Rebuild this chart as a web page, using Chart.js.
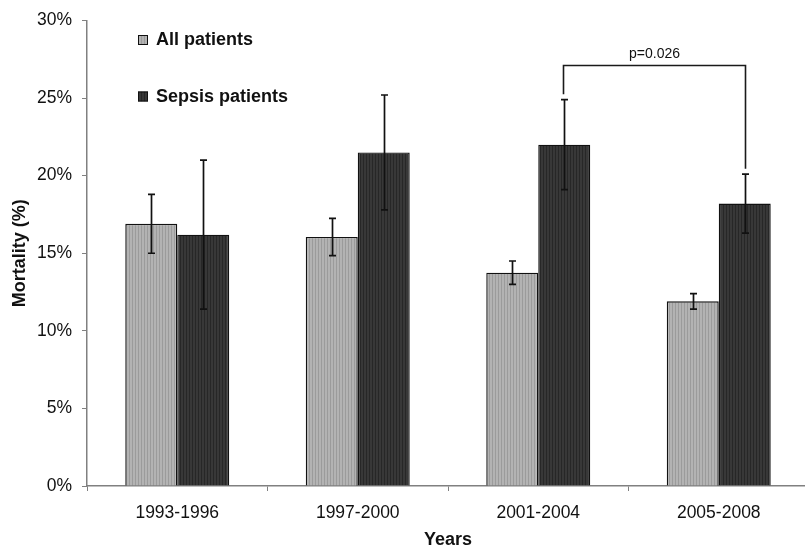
<!DOCTYPE html>
<html>
<head>
<meta charset="utf-8">
<script src="https://cdn.jsdelivr.net/npm/chart.js@4.4.1/dist/chart.umd.min.js"></script>
<style>
  html, body { margin: 0; padding: 0; background: #fff; overflow: hidden; }
  #wrap { width: 805px; height: 552px; overflow: hidden; position: relative; }
  canvas { display: block; }
</style>
</head>
<body>
<div id="wrap"><canvas id="c" width="812" height="552"></canvas></div>
<script>
// Mortality by period, all patients vs sepsis patients (mean and error in %)
const periods = ['1993-1996', '1997-2000', '2001-2004', '2005-2008'];
const allPatients = [16.9, 16.05, 13.75, 11.9];
const allPatientsErr = [1.9, 1.2, 0.75, 0.5];
const sepsisPatients = [16.2, 21.5, 22.0, 18.2];
const sepsisPatientsErr = [4.8, 3.7, 2.9, 1.9];
const yTicks = [0, 5, 10, 15, 20, 25, 30];

// Significance bracket between the sepsis bars of two periods
const comparison = { from: 2, to: 3, label: 'p=0.026', level: 27.15, gap: 0.35 };

const FONT = '"Liberation Sans", Arial, sans-serif';

function stripes(base, line) {
  const p = document.createElement('canvas');
  p.width = 3; p.height = 4;
  const g = p.getContext('2d');
  g.fillStyle = base; g.fillRect(0, 0, 3, 4);
  g.fillStyle = line; g.fillRect(0, 0, 1, 4);
  return g.createPattern(p, 'repeat');
}

const ctx = document.getElementById('c').getContext('2d');
const lightFill = stripes('#b3b3b3', '#9b9b9b');
const darkFill = stripes('#383838', '#272727');

const errorBars = {
  id: 'errorBars',
  afterDatasetsDraw(chart) {
    const c = chart.ctx;
    const y = chart.scales.y;
    c.save();
    c.strokeStyle = '#111';
    c.lineWidth = 1.7;
    chart.data.datasets.forEach((ds, di) => {
      const meta = chart.getDatasetMeta(di);
      meta.data.forEach((bar, i) => {
        const v = ds.data[i], e = ds.errors[i];
        const yt = y.getPixelForValue(v + e), yb = y.getPixelForValue(v - e);
        const x = Math.round(bar.x) + 0.5;
        c.beginPath();
        c.moveTo(x, yt); c.lineTo(x, yb);
        c.moveTo(x - 3.5, yt); c.lineTo(x + 3.5, yt);
        c.moveTo(x - 3.5, yb); c.lineTo(x + 3.5, yb);
        c.stroke();
      });
    });
    c.restore();
  }
};

const bracket = {
  id: 'bracket',
  afterDatasetsDraw(chart) {
    const c = chart.ctx;
    const y = chart.scales.y;
    const meta = chart.getDatasetMeta(1);
    const a = meta.data[comparison.from], b = meta.data[comparison.to];
    const ya = y.getPixelForValue(sepsisPatients[comparison.from] + sepsisPatientsErr[comparison.from] + comparison.gap);
    const yb = y.getPixelForValue(sepsisPatients[comparison.to] + sepsisPatientsErr[comparison.to] + comparison.gap);
    const yl = Math.round(y.getPixelForValue(comparison.level)) + 0.5;
    const xa = Math.round(a.x) - 0.5, xb = Math.round(b.x) + 0.5;
    c.save();
    c.strokeStyle = '#1a1a1a';
    c.lineWidth = 1.6;
    c.beginPath();
    c.moveTo(xa, ya); c.lineTo(xa, yl); c.lineTo(xb, yl); c.lineTo(xb, yb);
    c.stroke();
    c.fillStyle = '#111';
    c.font = '14px ' + FONT;
    c.textAlign = 'center';
    c.textBaseline = 'alphabetic';
    c.fillText(comparison.label, (xa + xb) / 2, yl - 8);
    c.restore();
  }
};

const legendBox = {
  id: 'legendBox',
  afterDraw(chart) {
    const c = chart.ctx;
    c.save();
    c.font = 'bold 18px ' + FONT;
    c.textBaseline = 'middle';
    c.textAlign = 'left';
    chart.data.datasets.forEach((ds, i) => {
      const top = 35 + i * 56.5;
      c.fillStyle = ds.backgroundColor;
      c.fillRect(138, top, 10, 10);
      c.strokeStyle = '#111';
      c.lineWidth = 1;
      c.strokeRect(138.5, top + 0.5, 9, 9);
      c.fillStyle = '#111';
      c.fillText(ds.label, 156, top + 5.5);
    });
    c.restore();
  }
};

new Chart(ctx, {
  type: 'bar',
  data: {
    labels: periods,
    datasets: [
      { label: 'All patients', data: allPatients, errors: allPatientsErr,
        backgroundColor: lightFill, borderColor: '#111', borderWidth: 1.4 },
      { label: 'Sepsis patients', data: sepsisPatients, errors: sepsisPatientsErr,
        backgroundColor: darkFill, borderColor: '#111', borderWidth: 1.4 }
    ]
  },
  options: {
    responsive: false,
    devicePixelRatio: 1,
    animation: false,
    layout: { padding: { top: 18, right: 3, left: 0, bottom: 0 } },
    plugins: { legend: { display: false }, tooltip: { enabled: false } },
    datasets: { bar: { categoryPercentage: 0.576, barPercentage: 1 } },
    scales: {
      x: {
        grid: { display: true, drawOnChartArea: false, drawTicks: true, tickLength: 5, color: '#808080', offset: true },
        border: { display: true, color: '#808080', width: 1.5 },
        ticks: { color: '#111', padding: 12, font: { family: FONT, size: 17.5 } },
        title: { display: true, text: 'Years', color: '#111', padding: { top: 0, bottom: 1 },
                 font: { family: FONT, size: 18, weight: 'bold' } },
        afterFit(scale) { scale.height = 66; }
      },
      y: {
        min: 0, max: 30,
        afterBuildTicks(scale) { scale.ticks = yTicks.map(v => ({ value: v })); },
        grid: { display: true, drawOnChartArea: false, drawTicks: true, tickLength: 5, color: '#808080' },
        border: { display: true, color: '#808080', width: 1.5 },
        ticks: { color: '#111', padding: 10, callback: v => v + '%',
                 font: { family: FONT, size: 17.5 } },
        title: { display: true, text: 'Mortality (%)', color: '#111', padding: { top: 9, bottom: 0 },
                 font: { family: FONT, size: 18, weight: 'bold' } },
        afterFit(scale) { scale.width = 87; }
      }
    }
  },
  plugins: [errorBars, bracket, legendBox]
});
</script>
</body>
</html>
